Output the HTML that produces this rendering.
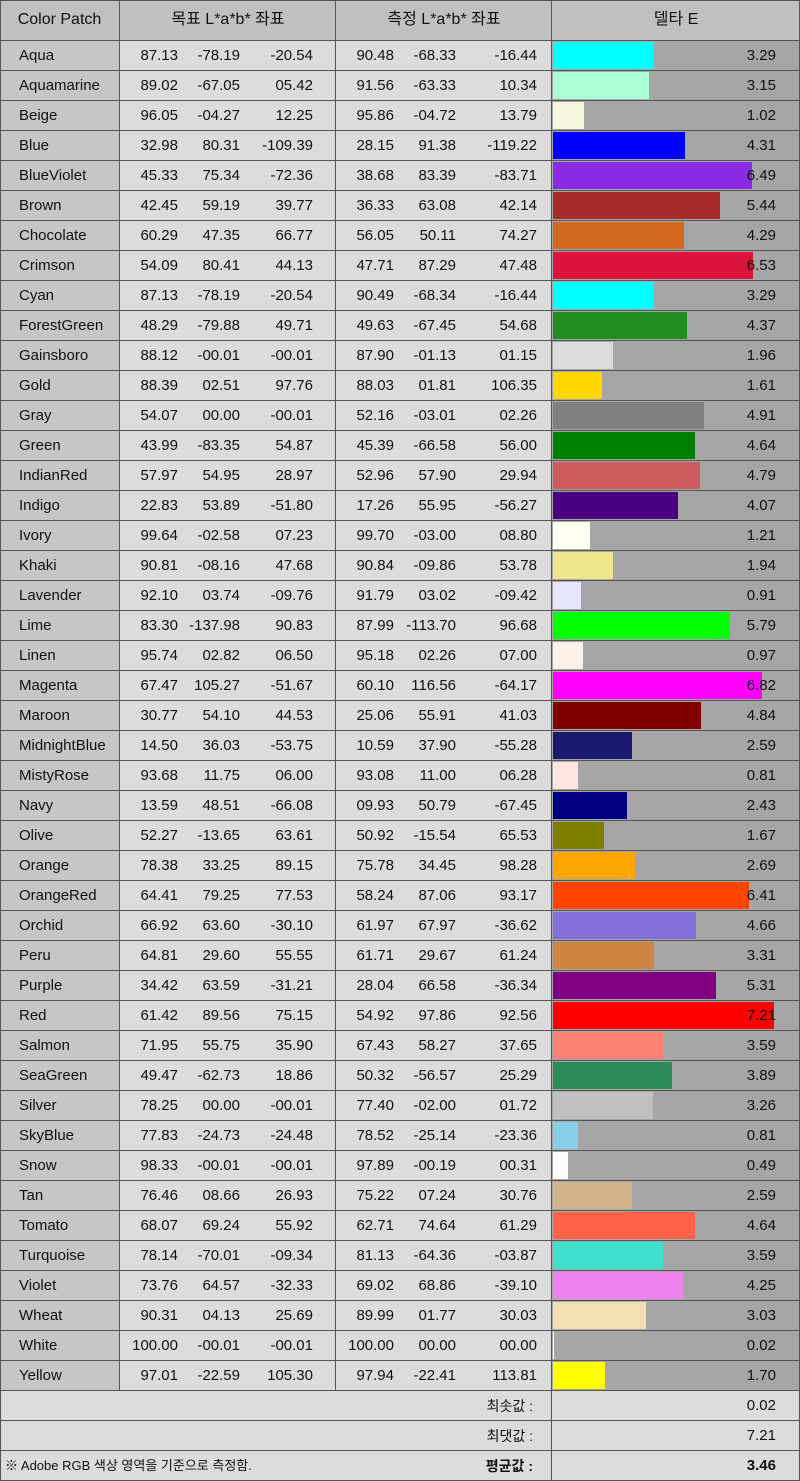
<!DOCTYPE html><html><head><meta charset="utf-8"><style>
body{margin:0;width:800px;height:1481px;background:#dcdcdc;font-family:"Liberation Sans","Noto Sans CJK KR",sans-serif;font-size:15px;color:#111;overflow:hidden}
.t{position:relative;width:800px}
.h{position:relative;height:40px;background:#c0c0c0;border-bottom:1px solid #555;font-size:16px}
.h span{position:absolute;top:0;line-height:40px;text-align:center}
.r{position:relative;height:29px;border-bottom:1px solid #555;background:#dcdcdc}
.r b{font-weight:normal;position:absolute;left:0;top:0;width:119px;height:29px;background:#c6c6c6;padding-left:19px;box-sizing:border-box;line-height:30px}
.r i{font-style:normal;position:absolute;top:0;line-height:30px;text-align:right;width:70px}
.a1{left:108px}.a2{left:170px}.a3{left:243px}.b1{left:324px}.b2{left:386px}.b3{left:467px}
.d{position:absolute;left:552px;top:0;width:248px;height:29px;background:#a6a6a6}
.d s{position:absolute;left:1px;top:1px;height:27px;text-decoration:none}
.r em{font-style:normal;position:absolute;left:700px;width:76px;text-align:right;line-height:30px;top:0}
.v{position:absolute;top:0;width:1px;height:1481px;background:#555}
.f{position:relative;height:29px;border-bottom:1px solid #555;background:#dcdcdc}
.f .l{position:absolute;left:380px;width:153px;text-align:right;line-height:30px;font-size:14px}
.f .n{position:absolute;left:700px;width:76px;text-align:right;line-height:30px}
</style></head><body><div class="t">
<div class="h"><span style="left:0;width:119px">Color Patch</span><span style="left:120px;width:216px">목표 L*a*b* 좌표</span><span style="left:336px;width:216px">측정 L*a*b* 좌표</span><span style="left:552px;width:248px">델타 E</span></div>
<div class="r"><b>Aqua</b><i class="a1">87.13</i><i class="a2">-78.19</i><i class="a3">-20.54</i><i class="b1">90.48</i><i class="b2">-68.33</i><i class="b3">-16.44</i><div class="d"><s style="width:101px;background:#00ffff"></s></div><em>3.29</em></div>
<div class="r"><b>Aquamarine</b><i class="a1">89.02</i><i class="a2">-67.05</i><i class="a3">05.42</i><i class="b1">91.56</i><i class="b2">-63.33</i><i class="b3">10.34</i><div class="d"><s style="width:96px;background:#aaffd4"></s></div><em>3.15</em></div>
<div class="r"><b>Beige</b><i class="a1">96.05</i><i class="a2">-04.27</i><i class="a3">12.25</i><i class="b1">95.86</i><i class="b2">-04.72</i><i class="b3">13.79</i><div class="d"><s style="width:31px;background:#f5f5dc"></s></div><em>1.02</em></div>
<div class="r"><b>Blue</b><i class="a1">32.98</i><i class="a2">80.31</i><i class="a3">-109.39</i><i class="b1">28.15</i><i class="b2">91.38</i><i class="b3">-119.22</i><div class="d"><s style="width:132px;background:#0000ff"></s></div><em>4.31</em></div>
<div class="r"><b>BlueViolet</b><i class="a1">45.33</i><i class="a2">75.34</i><i class="a3">-72.36</i><i class="b1">38.68</i><i class="b2">83.39</i><i class="b3">-83.71</i><div class="d"><s style="width:199px;background:#8a2be2"></s></div><em>6.49</em></div>
<div class="r"><b>Brown</b><i class="a1">42.45</i><i class="a2">59.19</i><i class="a3">39.77</i><i class="b1">36.33</i><i class="b2">63.08</i><i class="b3">42.14</i><div class="d"><s style="width:167px;background:#a52a2a"></s></div><em>5.44</em></div>
<div class="r"><b>Chocolate</b><i class="a1">60.29</i><i class="a2">47.35</i><i class="a3">66.77</i><i class="b1">56.05</i><i class="b2">50.11</i><i class="b3">74.27</i><div class="d"><s style="width:131px;background:#d2691e"></s></div><em>4.29</em></div>
<div class="r"><b>Crimson</b><i class="a1">54.09</i><i class="a2">80.41</i><i class="a3">44.13</i><i class="b1">47.71</i><i class="b2">87.29</i><i class="b3">47.48</i><div class="d"><s style="width:200px;background:#dc143c"></s></div><em>6.53</em></div>
<div class="r"><b>Cyan</b><i class="a1">87.13</i><i class="a2">-78.19</i><i class="a3">-20.54</i><i class="b1">90.49</i><i class="b2">-68.34</i><i class="b3">-16.44</i><div class="d"><s style="width:101px;background:#00ffff"></s></div><em>3.29</em></div>
<div class="r"><b>ForestGreen</b><i class="a1">48.29</i><i class="a2">-79.88</i><i class="a3">49.71</i><i class="b1">49.63</i><i class="b2">-67.45</i><i class="b3">54.68</i><div class="d"><s style="width:134px;background:#228b22"></s></div><em>4.37</em></div>
<div class="r"><b>Gainsboro</b><i class="a1">88.12</i><i class="a2">-00.01</i><i class="a3">-00.01</i><i class="b1">87.90</i><i class="b2">-01.13</i><i class="b3">01.15</i><div class="d"><s style="width:60px;background:#dcdcdc"></s></div><em>1.96</em></div>
<div class="r"><b>Gold</b><i class="a1">88.39</i><i class="a2">02.51</i><i class="a3">97.76</i><i class="b1">88.03</i><i class="b2">01.81</i><i class="b3">106.35</i><div class="d"><s style="width:49px;background:#ffd700"></s></div><em>1.61</em></div>
<div class="r"><b>Gray</b><i class="a1">54.07</i><i class="a2">00.00</i><i class="a3">-00.01</i><i class="b1">52.16</i><i class="b2">-03.01</i><i class="b3">02.26</i><div class="d"><s style="width:151px;background:#808080"></s></div><em>4.91</em></div>
<div class="r"><b>Green</b><i class="a1">43.99</i><i class="a2">-83.35</i><i class="a3">54.87</i><i class="b1">45.39</i><i class="b2">-66.58</i><i class="b3">56.00</i><div class="d"><s style="width:142px;background:#008000"></s></div><em>4.64</em></div>
<div class="r"><b>IndianRed</b><i class="a1">57.97</i><i class="a2">54.95</i><i class="a3">28.97</i><i class="b1">52.96</i><i class="b2">57.90</i><i class="b3">29.94</i><div class="d"><s style="width:147px;background:#cd5c5c"></s></div><em>4.79</em></div>
<div class="r"><b>Indigo</b><i class="a1">22.83</i><i class="a2">53.89</i><i class="a3">-51.80</i><i class="b1">17.26</i><i class="b2">55.95</i><i class="b3">-56.27</i><div class="d"><s style="width:125px;background:#4b0082"></s></div><em>4.07</em></div>
<div class="r"><b>Ivory</b><i class="a1">99.64</i><i class="a2">-02.58</i><i class="a3">07.23</i><i class="b1">99.70</i><i class="b2">-03.00</i><i class="b3">08.80</i><div class="d"><s style="width:37px;background:#fffff0"></s></div><em>1.21</em></div>
<div class="r"><b>Khaki</b><i class="a1">90.81</i><i class="a2">-08.16</i><i class="a3">47.68</i><i class="b1">90.84</i><i class="b2">-09.86</i><i class="b3">53.78</i><div class="d"><s style="width:60px;background:#f0e68c"></s></div><em>1.94</em></div>
<div class="r"><b>Lavender</b><i class="a1">92.10</i><i class="a2">03.74</i><i class="a3">-09.76</i><i class="b1">91.79</i><i class="b2">03.02</i><i class="b3">-09.42</i><div class="d"><s style="width:28px;background:#e6e6fa"></s></div><em>0.91</em></div>
<div class="r"><b>Lime</b><i class="a1">83.30</i><i class="a2">-137.98</i><i class="a3">90.83</i><i class="b1">87.99</i><i class="b2">-113.70</i><i class="b3">96.68</i><div class="d"><s style="width:177px;background:#00ff00"></s></div><em>5.79</em></div>
<div class="r"><b>Linen</b><i class="a1">95.74</i><i class="a2">02.82</i><i class="a3">06.50</i><i class="b1">95.18</i><i class="b2">02.26</i><i class="b3">07.00</i><div class="d"><s style="width:30px;background:#faf0e6"></s></div><em>0.97</em></div>
<div class="r"><b>Magenta</b><i class="a1">67.47</i><i class="a2">105.27</i><i class="a3">-51.67</i><i class="b1">60.10</i><i class="b2">116.56</i><i class="b3">-64.17</i><div class="d"><s style="width:209px;background:#ff00ff"></s></div><em>6.82</em></div>
<div class="r"><b>Maroon</b><i class="a1">30.77</i><i class="a2">54.10</i><i class="a3">44.53</i><i class="b1">25.06</i><i class="b2">55.91</i><i class="b3">41.03</i><div class="d"><s style="width:148px;background:#800000"></s></div><em>4.84</em></div>
<div class="r"><b>MidnightBlue</b><i class="a1">14.50</i><i class="a2">36.03</i><i class="a3">-53.75</i><i class="b1">10.59</i><i class="b2">37.90</i><i class="b3">-55.28</i><div class="d"><s style="width:79px;background:#191970"></s></div><em>2.59</em></div>
<div class="r"><b>MistyRose</b><i class="a1">93.68</i><i class="a2">11.75</i><i class="a3">06.00</i><i class="b1">93.08</i><i class="b2">11.00</i><i class="b3">06.28</i><div class="d"><s style="width:25px;background:#ffe4e1"></s></div><em>0.81</em></div>
<div class="r"><b>Navy</b><i class="a1">13.59</i><i class="a2">48.51</i><i class="a3">-66.08</i><i class="b1">09.93</i><i class="b2">50.79</i><i class="b3">-67.45</i><div class="d"><s style="width:74px;background:#000080"></s></div><em>2.43</em></div>
<div class="r"><b>Olive</b><i class="a1">52.27</i><i class="a2">-13.65</i><i class="a3">63.61</i><i class="b1">50.92</i><i class="b2">-15.54</i><i class="b3">65.53</i><div class="d"><s style="width:51px;background:#808000"></s></div><em>1.67</em></div>
<div class="r"><b>Orange</b><i class="a1">78.38</i><i class="a2">33.25</i><i class="a3">89.15</i><i class="b1">75.78</i><i class="b2">34.45</i><i class="b3">98.28</i><div class="d"><s style="width:82px;background:#ffa500"></s></div><em>2.69</em></div>
<div class="r"><b>OrangeRed</b><i class="a1">64.41</i><i class="a2">79.25</i><i class="a3">77.53</i><i class="b1">58.24</i><i class="b2">87.06</i><i class="b3">93.17</i><div class="d"><s style="width:196px;background:#ff4500"></s></div><em>6.41</em></div>
<div class="r"><b>Orchid</b><i class="a1">66.92</i><i class="a2">63.60</i><i class="a3">-30.10</i><i class="b1">61.97</i><i class="b2">67.97</i><i class="b3">-36.62</i><div class="d"><s style="width:143px;background:#8470d8"></s></div><em>4.66</em></div>
<div class="r"><b>Peru</b><i class="a1">64.81</i><i class="a2">29.60</i><i class="a3">55.55</i><i class="b1">61.71</i><i class="b2">29.67</i><i class="b3">61.24</i><div class="d"><s style="width:101px;background:#cd853f"></s></div><em>3.31</em></div>
<div class="r"><b>Purple</b><i class="a1">34.42</i><i class="a2">63.59</i><i class="a3">-31.21</i><i class="b1">28.04</i><i class="b2">66.58</i><i class="b3">-36.34</i><div class="d"><s style="width:163px;background:#800080"></s></div><em>5.31</em></div>
<div class="r"><b>Red</b><i class="a1">61.42</i><i class="a2">89.56</i><i class="a3">75.15</i><i class="b1">54.92</i><i class="b2">97.86</i><i class="b3">92.56</i><div class="d"><s style="width:221px;background:#ff0000"></s></div><em>7.21</em></div>
<div class="r"><b>Salmon</b><i class="a1">71.95</i><i class="a2">55.75</i><i class="a3">35.90</i><i class="b1">67.43</i><i class="b2">58.27</i><i class="b3">37.65</i><div class="d"><s style="width:110px;background:#fa8072"></s></div><em>3.59</em></div>
<div class="r"><b>SeaGreen</b><i class="a1">49.47</i><i class="a2">-62.73</i><i class="a3">18.86</i><i class="b1">50.32</i><i class="b2">-56.57</i><i class="b3">25.29</i><div class="d"><s style="width:119px;background:#2e8b57"></s></div><em>3.89</em></div>
<div class="r"><b>Silver</b><i class="a1">78.25</i><i class="a2">00.00</i><i class="a3">-00.01</i><i class="b1">77.40</i><i class="b2">-02.00</i><i class="b3">01.72</i><div class="d"><s style="width:100px;background:#c0c0c0"></s></div><em>3.26</em></div>
<div class="r"><b>SkyBlue</b><i class="a1">77.83</i><i class="a2">-24.73</i><i class="a3">-24.48</i><i class="b1">78.52</i><i class="b2">-25.14</i><i class="b3">-23.36</i><div class="d"><s style="width:25px;background:#87ceeb"></s></div><em>0.81</em></div>
<div class="r"><b>Snow</b><i class="a1">98.33</i><i class="a2">-00.01</i><i class="a3">-00.01</i><i class="b1">97.89</i><i class="b2">-00.19</i><i class="b3">00.31</i><div class="d"><s style="width:15px;background:#fffafa"></s></div><em>0.49</em></div>
<div class="r"><b>Tan</b><i class="a1">76.46</i><i class="a2">08.66</i><i class="a3">26.93</i><i class="b1">75.22</i><i class="b2">07.24</i><i class="b3">30.76</i><div class="d"><s style="width:79px;background:#d2b48c"></s></div><em>2.59</em></div>
<div class="r"><b>Tomato</b><i class="a1">68.07</i><i class="a2">69.24</i><i class="a3">55.92</i><i class="b1">62.71</i><i class="b2">74.64</i><i class="b3">61.29</i><div class="d"><s style="width:142px;background:#ff6347"></s></div><em>4.64</em></div>
<div class="r"><b>Turquoise</b><i class="a1">78.14</i><i class="a2">-70.01</i><i class="a3">-09.34</i><i class="b1">81.13</i><i class="b2">-64.36</i><i class="b3">-03.87</i><div class="d"><s style="width:110px;background:#40e0d0"></s></div><em>3.59</em></div>
<div class="r"><b>Violet</b><i class="a1">73.76</i><i class="a2">64.57</i><i class="a3">-32.33</i><i class="b1">69.02</i><i class="b2">68.86</i><i class="b3">-39.10</i><div class="d"><s style="width:130px;background:#ee82ee"></s></div><em>4.25</em></div>
<div class="r"><b>Wheat</b><i class="a1">90.31</i><i class="a2">04.13</i><i class="a3">25.69</i><i class="b1">89.99</i><i class="b2">01.77</i><i class="b3">30.03</i><div class="d"><s style="width:93px;background:#f5deb3"></s></div><em>3.03</em></div>
<div class="r"><b>White</b><i class="a1">100.00</i><i class="a2">-00.01</i><i class="a3">-00.01</i><i class="b1">100.00</i><i class="b2">00.00</i><i class="b3">00.00</i><div class="d"><s style="width:1px;background:#ffffff"></s></div><em>0.02</em></div>
<div class="r"><b>Yellow</b><i class="a1">97.01</i><i class="a2">-22.59</i><i class="a3">105.30</i><i class="b1">97.94</i><i class="b2">-22.41</i><i class="b3">113.81</i><div class="d"><s style="width:52px;background:#ffff00"></s></div><em>1.70</em></div>
<div class="f"><span class="l">최솟값 :</span><span class="n">0.02</span></div>
<div class="f"><span class="l">최댓값 :</span><span class="n">7.21</span></div>
<div class="f" style="border-bottom:0;height:30px"><span style="position:absolute;left:5px;line-height:30px;font-size:13px">※ Adobe RGB 색상 영역을 기준으로 측정함.</span><span class="l" style="font-weight:bold">평균값 :</span><span class="n" style="font-weight:bold">3.46</span></div>
<div class="v" style="left:119px;height:1391px"></div>
<div class="v" style="left:335px;height:1391px"></div>
<div class="v" style="left:551px"></div>
<div class="v" style="left:0"></div>
<div class="v" style="left:799px"></div>
<div style="position:absolute;left:0;top:0;width:800px;height:1px;background:#555"></div>
<div style="position:absolute;left:0;top:1480px;width:800px;height:1px;background:#555"></div>
</div></body></html>
